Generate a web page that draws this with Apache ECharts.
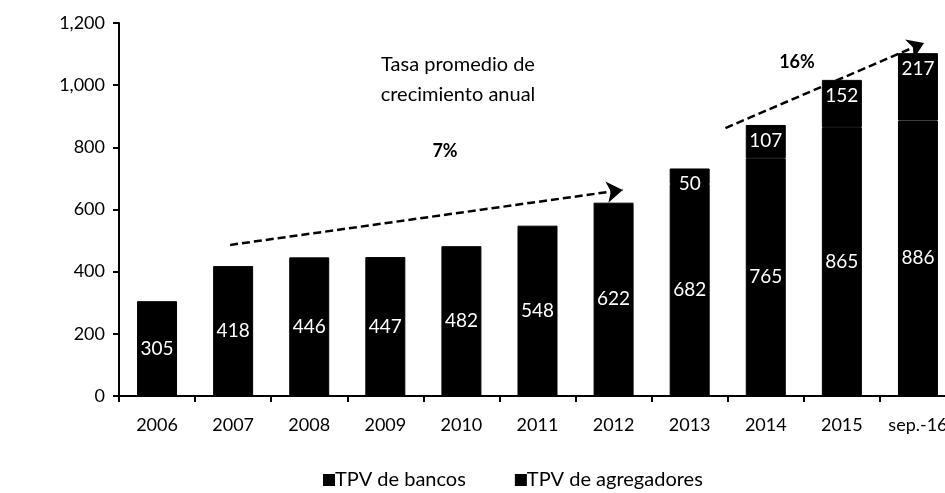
<!DOCTYPE html>
<html>
<head>
<meta charset="utf-8">
<script src="https://cdn.jsdelivr.net/npm/echarts@6/dist/echarts.min.js"></script>
<style>
  html, body { margin: 0; padding: 0; background: #fff; }
  #chart { width: 945px; height: 493px; }
</style>
</head>
<body>
<div id="chart"></div>
<script>
// data
const categories = ['2006', '2007', '2008', '2009', '2010', '2011', '2012', '2013', '2014', '2015', 'sep.-16']
const bancos = [305, 418, 446, 447, 482, 548, 622, 682, 765, 865, 886]
const agregadores = [null, null, null, null, null, null, null, 50, 107, 152, 217]
const yTicks = [0, 200, 400, 600, 800, 1000, 1200]

// trend arrows: [category position, value] pairs (0 = first category centre)
const arrow1 = [[0.96, 486], [6.12, 663]]
const arrow2 = [[7.47, 862], [10.08, 1136]]

const font = 'Lato, "Open Sans", sans-serif'
const chart = echarts.init(document.getElementById('chart'))

chart.setOption({
  animation: false,
  textStyle: { fontFamily: font },
  grid: { left: 119, right: -11, top: 23, bottom: 97, outerBoundsMode: 'none' },
  legend: {
    top: 465,
    left: 318,
    icon: 'rect',
    itemWidth: 10,
    itemHeight: 10,
    itemGap: 49,
    textStyle: { fontSize: 20, color: '#000', fontFamily: font, padding: [0, 0, 0, -4] },
    data: ['TPV de bancos', 'TPV de agregadores']
  },
  xAxis: [
    {
      type: 'category',
      data: categories,
      axisLine: { lineStyle: { color: '#000', width: 2 } },
      axisTick: { show: true, length: 6, lineStyle: { color: '#000', width: 2 } },
      axisLabel: { color: '#000', fontSize: 18, margin: 20, interval: 0 }
    },
    {
      // hidden helper axis so the arrows can sit between categories
      type: 'value',
      min: -0.5,
      max: categories.length - 0.5,
      show: false
    }
  ],
  yAxis: {
    type: 'value',
    min: yTicks[0],
    max: yTicks[yTicks.length - 1],
    interval: 200,
    splitLine: { show: false },
    axisLine: { show: true, onZero: false, lineStyle: { color: '#000', width: 2 } },
    axisTick: { show: true, length: 6, lineStyle: { color: '#000', width: 2 } },
    axisLabel: {
      color: '#000',
      fontSize: 18,
      margin: 14,
      formatter: v => v.toLocaleString('en-US')
    }
  },
  series: [
    {
      name: 'TPV de bancos',
      type: 'bar',
      stack: 'tpv',
      barWidth: 40,
      data: bancos,
      itemStyle: { color: '#000', borderColor: '#000', borderWidth: 1 },
      label: {
        show: true,
        position: 'inside',
        color: '#fff',
        fontSize: 19
      }
    },
    {
      name: 'TPV de agregadores',
      type: 'bar',
      stack: 'tpv',
      barWidth: 40,
      data: agregadores,
      itemStyle: { color: '#000', borderColor: '#000', borderWidth: 1 },
      label: {
        show: true,
        position: 'insideTop',
        distance: 6,
        color: '#fff',
        fontSize: 19
      }
    },
    {
      type: 'lines',
      coordinateSystem: 'cartesian2d',
      xAxisIndex: 1,
      silent: true,
      symbol: ['none', 'arrow'],
      symbolSize: [14, 16],
      lineStyle: { color: '#000', type: [8, 4], width: 2.5, opacity: 1 },
      data: [{ coords: arrow1 }, { coords: arrow2 }]
    }
  ],
  graphic: [
    {
      type: 'text',
      x: 458,
      y: 50,
      style: {
        text: 'Tasa promedio de\ncrecimiento anual',
        fontSize: 20,
        lineHeight: 30,
        align: 'center',
        fill: '#000',
        fontFamily: font
      }
    },
    {
      type: 'text',
      x: 445,
      y: 142,
      style: { text: '7%', fontSize: 18, fontWeight: 'bold', align: 'center', fill: '#000', fontFamily: font }
    },
    {
      type: 'text',
      x: 797,
      y: 53,
      style: { text: '16%', fontSize: 18, fontWeight: 'bold', align: 'center', fill: '#000', fontFamily: font }
    }
  ]
})
</script>
</body>
</html>
